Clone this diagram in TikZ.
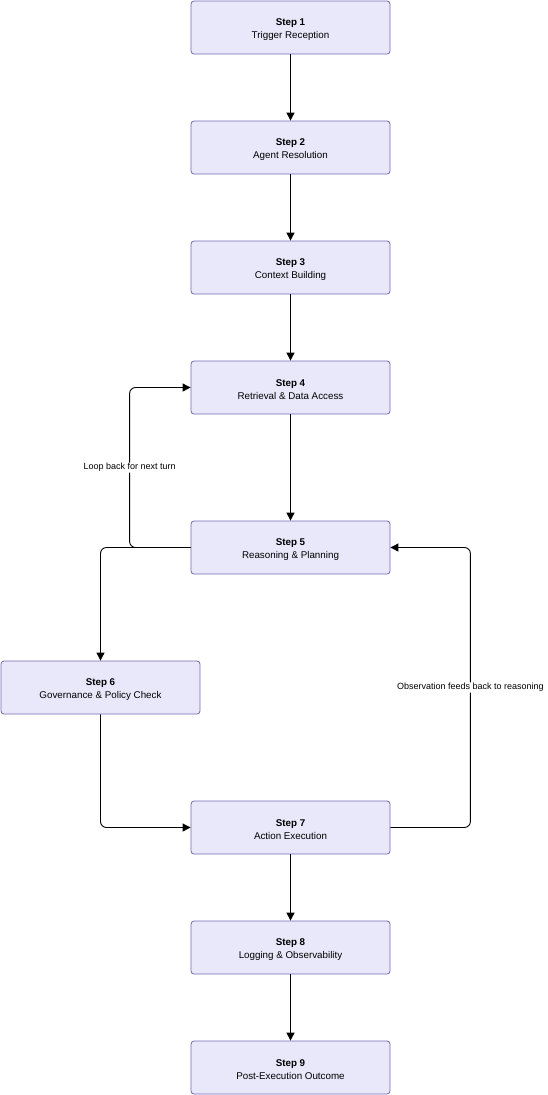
\documentclass[tikz,border=0pt]{standalone}
\usepackage{fontspec}
\setmainfont{Liberation Sans}
\usepackage{xcolor}
\usepackage{tikz}
\usetikzlibrary{arrows.meta,shapes}
\definecolor{boxfill}{RGB}{232,232,250}
\definecolor{boxline}{RGB}{118,104,176}
\newcommand{\steptext}[2]{\rule{0pt}{11pt}\textbf{Step #1}\\#2}
\begin{document}
\begin{tikzpicture}[x=1pt,y=-1pt,
  stepbox/.style={fill=boxfill, draw=boxline, line width=0.8pt, rectangle, rounded corners=3pt,
    minimum width=199pt, minimum height=53pt, align=center, inner sep=0pt,
    font=\fontsize{9.8}{12.5}\selectfont},
  flow/.style={line width=0.9pt, rounded corners=6pt,
    -{Triangle[length=8pt,width=8pt]}},
  tag/.style={fill=white, inner sep=1pt, font=\fontsize{9}{11}\selectfont}]

\useasboundingbox (0,0) rectangle (547,1095);

 \node[stepbox] (s1) at (290.5,27.5) {\steptext{1}{Trigger Reception}};

 \node[stepbox] (s2) at (290.5,147.5) {\steptext{2}{Agent Resolution}};

 \node[stepbox] (s3) at (290.5,267.5) {\steptext{3}{Context Building}};

 \node[stepbox] (s4) at (290.5,387.5) {\steptext{4}{Retrieval \& Data Access}};

 \node[stepbox] (s5) at (290.5,547.5) {\steptext{5}{Reasoning \& Planning}};

 \node[stepbox] (s6) at (100.5,687.5) {\steptext{6}{Governance \& Policy Check}};

 \node[stepbox] (s7) at (290.5,827.5) {\steptext{7}{Action Execution}};

 \node[stepbox] (s8) at (290.5,947.5) {\steptext{8}{Logging \& Observability}};

 \node[stepbox] (s9) at (290.5,1067.5) {\steptext{9}{Post-Execution Outcome}};

\draw [flow] (s1) -- (s2);
\draw [flow] (s2) -- (s3);
\draw [flow] (s3) -- (s4);
\draw [flow] (s4) -- (s5);

\draw [flow] (s5.west) -- ++(-61,0) |- (s4.west)
   node[tag, pos=0.25] {Loop back for next turn};

\draw [flow] (s5.west) -| (s6.north);

\draw [flow] (s6.south) |- (s7.west);

\draw [flow] (s7.east) -- ++(80,0) |- (s5.east)
   node[tag, pos=0.25] {Observation feeds back to reasoning};

\draw [flow] (s7) -- (s8);
\draw [flow] (s8) -- (s9);

\end{tikzpicture}
\end{document}
